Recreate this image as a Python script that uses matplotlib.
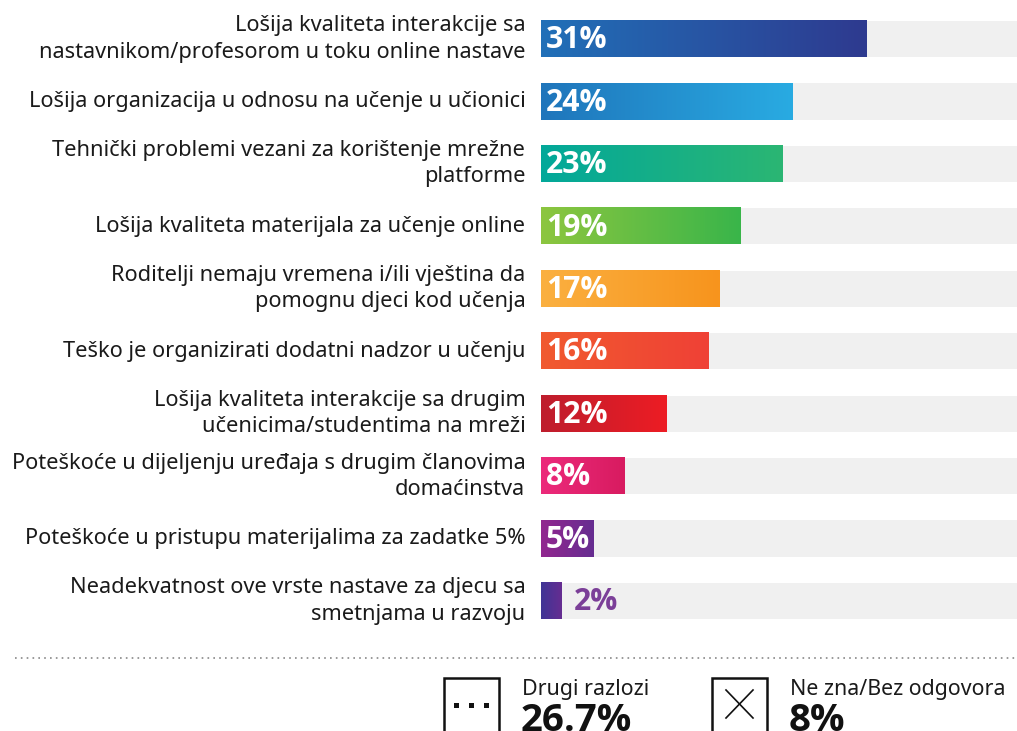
import matplotlib
matplotlib.use("Agg")
import matplotlib.pyplot as plt
import numpy as np
from matplotlib.colors import LinearSegmentedColormap
from matplotlib.patches import Rectangle

categories = [
    "Lošija kvaliteta interakcije sa\nnastavnikom/profesorom u toku online nastave",
    "Lošija organizacija u odnosu na učenje u učionici",
    "Tehnički problemi vezani za korištenje mrežne\nplatforme",
    "Lošija kvaliteta materijala za učenje online",
    "Roditelji nemaju vremena i/ili vještina da\npomognu djeci kod učenja",
    "Teško je organizirati dodatni nadzor u učenju",
    "Lošija kvaliteta interakcije sa drugim\nučenicima/studentima na mreži",
    "Poteškoće u dijeljenju uređaja s drugim članovima\ndomaćinstva",
    "Poteškoće u pristupu materijalima za zadatke 5%",
    "Neadekvatnost ove vrste nastave za djecu sa\nsmetnjama u razvoju",
]
values = [31, 24, 23, 19, 17, 16, 12, 8, 5, 2]
value_labels = ["31%", "24%", "23%", "19%", "17%", "16%", "12%", "8%", "5%", "2%"]
grad_left = ["#2170b8", "#1f75bb", "#02a89a", "#8dc63f", "#fbb040", "#f15a2f",
             "#be1e2d", "#ec2a7b", "#92278f", "#3f3596"]
grad_right = ["#2e3a8f", "#29abe2", "#2bb673", "#39b54a", "#f7941d", "#ef4136",
              "#ed1c24", "#d81b60", "#662d91", "#662d91"]
extra_labels = ["Drugi razlozi", "Ne zna/Bez odgovora"]
extra_values = ["26.7%", "8%"]

FONT = "Noto Sans"
BOLD = "Open Sans"
W, H = 1017, 731
fig = plt.figure(figsize=(W / 100, H / 100), dpi=100)
renderer = fig.canvas.get_renderer()


def fit_size(s, target_px, family, weight="normal"):
    t = fig.text(0, 0, s, fontsize=10, family=family, fontweight=weight)
    w = t.get_window_extent(renderer).width
    t.remove()
    return 10 * target_px / w


fs_cat = fit_size("Lošija organizacija u odnosu na učenje u učionici", 497, FONT)
fs_val = fit_size("31%", 61, BOLD, "bold")
fs_big = fit_size("26.7%", 111, BOLD, "bold")
fs_small = fit_size("Ne zna/Bez odgovora", 215, FONT)


def fx(px):
    return px / W


def fy(py):
    return 1 - py / H


top_px, bot_px = 7.8, 632.2
ax = fig.add_axes([fx(541), fy(bot_px), fx(1017 - 541), (bot_px - top_px) / H])
xmax = 45.4
bh = 0.58

grad = np.linspace(0, 1, 256).reshape(1, -1)
for i, v in enumerate(values):
    ax.add_patch(Rectangle((0, i - bh / 2), xmax, bh, facecolor="#f0f0f0",
                           edgecolor="none", zorder=1))
    cmap = LinearSegmentedColormap.from_list(f"g{i}", [grad_left[i], grad_right[i]])
    ax.imshow(grad, cmap=cmap, aspect="auto",
              extent=[0, v, i + bh / 2, i - bh / 2], zorder=2, interpolation="bilinear")
    if v >= 5:
        ax.text(0.45, i + 0.02, value_labels[i], color="white", fontsize=fs_val,
                fontweight="bold", family=BOLD, va="center", ha="left", zorder=3)
    else:
        ax.text(v + 1.1, i + 0.02, value_labels[i], color="#7b3f98", fontsize=fs_val,
                fontweight="bold", family=BOLD, va="center", ha="left", zorder=3)
ax.set_xlim(0, xmax)
ax.set_ylim(len(values) - 0.5, -0.5)
ax.axis("off")

for i, c in enumerate(categories):
    ax.text(-1.5, i, c, ha="right", va="center", fontsize=fs_cat, family=FONT,
            color="#1a1a1a", linespacing=1.32, multialignment="right")

# dotted separator
fig.add_artist(plt.Line2D([fx(15), fx(1017)], [fy(658), fy(658)], color="#888888",
                          lw=1.2, linestyle=(0, (1, 2.5))))


def box(x0):
    fig.add_artist(Rectangle((fx(x0), fy(740)), fx(55), (740 - 678) / H,
                             facecolor="none", edgecolor="#111111", lw=1.8))


box(444)
box(712)
for dx in (456, 471, 486):
    fig.add_artist(Rectangle((fx(dx - 2.5), fy(707.5)), fx(5), 5 / H,
                             facecolor="#111111", edgecolor="none"))
fig.add_artist(plt.Line2D([fx(726), fx(753)], [fy(690), fy(718)], color="#111111", lw=1.2))
fig.add_artist(plt.Line2D([fx(726), fx(753)], [fy(718), fy(690)], color="#111111", lw=1.2))

for x0, lab, val in zip((522, 790), extra_labels, extra_values):
    fig.text(fx(x0), fy(689), lab, fontsize=fs_small, family=FONT, color="#1a1a1a",
             va="center", ha="left")
    fig.text(fx(x0 - 1), fy(721), val, fontsize=fs_big, family=BOLD, fontweight="bold",
             color="#111111", va="center", ha="left")

fig.savefig("out.png", dpi=100, facecolor="white")
